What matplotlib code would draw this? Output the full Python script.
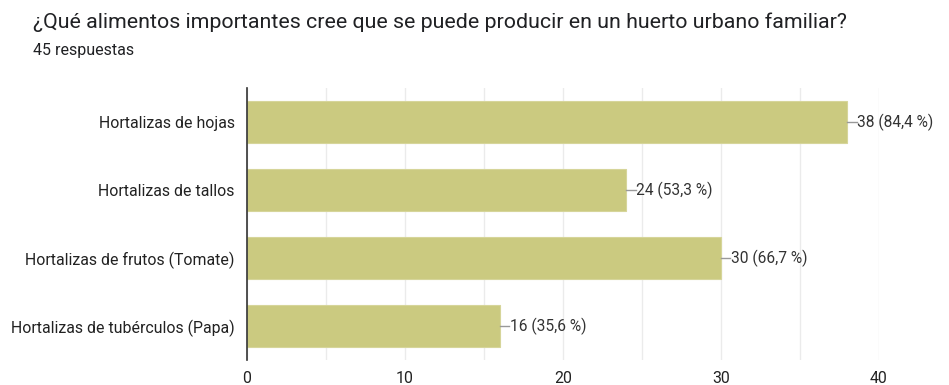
import matplotlib.pyplot as plt

plt.rcParams['font.family'] = ['Roboto', 'DejaVu Sans']

categorias = ['Hortalizas de hojas', 'Hortalizas de tallos',
              'Hortalizas de frutos (Tomate)', 'Hortalizas de tubérculos (Papa)']
respuestas = [38, 24, 30, 16]
porcentajes = ['84,4', '53,3', '66,7', '35,6']
total = 45
ticks_x = [0, 10, 20, 30, 40]

fig = plt.figure(figsize=(9.49, 3.85), dpi=100)
ax = fig.add_axes([0.2603, 0.0649, 0.6659, 0.7065])

pos = list(range(len(categorias)))
ax.barh(pos, respuestas, height=0.63, color='#cbca80', edgecolor='#d6d59a', linewidth=0.8, zorder=3)

# etiquetas de valor con una pequeña línea guía
for y, v, p in zip(pos, respuestas, porcentajes):
    ax.plot([v, v + 0.6], [y, y], color='#999999', lw=1, zorder=3)
    ax.text(v + 0.62, y, f'{v} ({p} %)', va='center', ha='left', fontsize=11.2, color='#333333')

ax.set_xlim(0, 40)
ax.set_ylim(len(categorias) - 0.5, -0.5)
ax.set_xticks(ticks_x)
ax.set_xticks([5, 15, 25, 35], minor=True)
ax.set_yticks(pos)
ax.set_yticklabels(categorias)
ax.grid(axis='x', which='both', color='#ebebeb', lw=1, zorder=0)
ax.tick_params(axis='y', length=0, pad=9, labelsize=11.4, labelcolor='#222222')
ax.tick_params(axis='x', which='both', length=0, pad=8, labelsize=11.4, labelcolor='#222222')
for s in ['top', 'right', 'bottom']:
    ax.spines[s].set_visible(False)
ax.spines['left'].set_color('#333333')
ax.spines['left'].set_linewidth(1.2)
ax.spines['left'].set_zorder(4)

fig.text(33 / 949, 1 - 22 / 385, '¿Qué alimentos importantes cree que se puede producir en un huerto urbano familiar?',
         fontsize=15.4, color='#202124', va='center')
fig.text(33 / 949, 1 - 50 / 385, f'{total} respuestas', fontsize=11.5, color='#202124', va='center')

fig.savefig('out.png', dpi=100, facecolor='white')
